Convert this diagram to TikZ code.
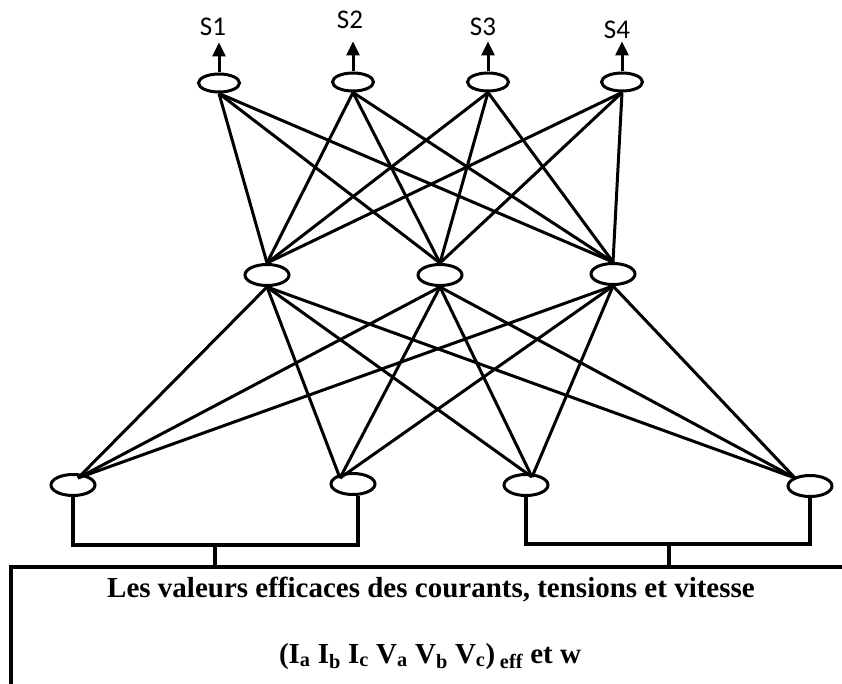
\documentclass[tikz,border=0pt]{standalone}
\usepackage{fontspec}
\setmainfont{Liberation Serif}
\newfontfamily\labelfont{Carlito}
\usetikzlibrary{arrows.meta, shapes.geometric}

\begin{document}
\begin{tikzpicture}[
  x=1pt, y=-1pt,
  neuron/.style={ellipse, draw, line width=3pt, inner sep=0pt,
                 minimum width=44pt, minimum height=21pt},
  outn/.style={neuron, minimum width=41pt, minimum height=18pt},
  link/.style={line width=3pt},
  bus/.style={line width=3.2pt},
  lab/.style={font=\labelfont\fontsize{27}{32}\selectfont},
  txt/.style={font=\fontsize{29}{34}\selectfont\bfseries, anchor=base},
  >={Triangle[length=14pt, width=13pt]}
]
\useasboundingbox (0,0) rectangle (842,684);

% Output layer
\node[outn] (o1) at (219,83) {};
\node[outn] (o2) at (353,82) {};
\node[outn] (o3) at (488,82) {};
\node[outn] (o4) at (622,82) {};

% Hidden layer
\node[neuron] (h1) at (267,275) {};
\node[neuron] (h2) at (440,275) {};
\node[neuron] (h3) at (613,274) {};

% Input layer
\node[neuron] (i1) at (73,485) {};
\node[neuron] (i2) at (353,484) {};
\node[neuron] (i3) at (526,485) {};
\node[neuron] (i4) at (810,486) {};

% entry points on the inputs
\coordinate (e1) at ([shift={(5pt,7pt)}]i1.center);
\coordinate (e2) at ([shift={(-13pt,6pt)}]i2.center);
\coordinate (e3) at ([shift={(6pt,8pt)}]i3.center);
\coordinate (e4) at ([shift={(-15pt,8pt)}]i4.center);

% Outputs S1..S4
\foreach \o in {1,...,4}
  \coordinate (t\o) at ([yshift=30pt]o\o.north);
\node[lab] (s1) at (213,27) {S1};
\node[lab] (s2) at (350,20) {S2};
\node[lab] (s3) at (483,27) {S3};
\node[lab] (s4) at (617,30) {S4};
\foreach \o in {1,...,4}
  \draw[link, ->] (o\o.north) -- (t\o);

% Output -> hidden
\foreach \o in {1,...,4}
  \foreach \h in {1,2,3}
    \draw[link] (o\o.south) -- (h\h.north);

% Hidden -> input
\foreach \h in {1,2,3}
  \foreach \i in {1,...,4}
    \draw[link] (h\h.south) -- (e\i);

% Frame of the data box
\coordinate (fr) at (11,567);
\draw[bus] (11,684) -- (fr) -- (842,567);

% Input buses
\coordinate (lb) at (215,545);
\coordinate (rb) at (669,544);
\draw[bus] (i1.south) |- (lb) -| ([xshift=5pt]i2.south);
\draw[bus] (i3.south) |- (rb) -| (i4.south);
\draw[bus] (lb) -- (lb |- fr);
\draw[bus] (rb) -- (rb |- fr);

% Data text
\node[txt] (d1) at (431,597) {Les valeurs efficaces des courants, tensions et vitesse};
\node[txt] (d2) at (430,663)
  {(I\textsubscript{a} I\textsubscript{b} I\textsubscript{c} V\textsubscript{a} V\textsubscript{b} V\textsubscript{c})\,\textsubscript{eff} et w};

\end{tikzpicture}
\end{document}
